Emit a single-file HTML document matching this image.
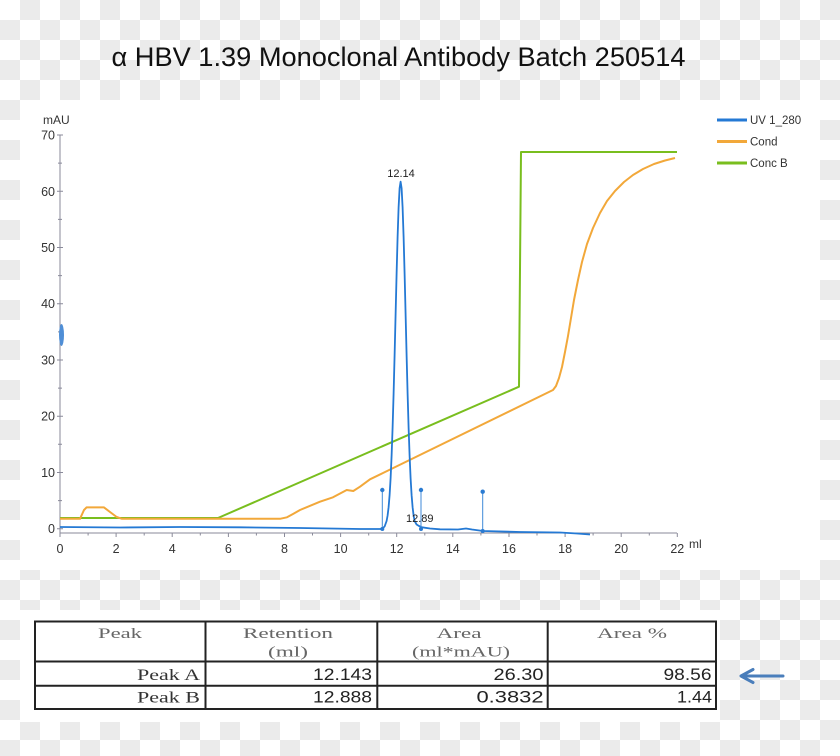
<!DOCTYPE html>
<html>
<head>
<meta charset="utf-8">
<style>
html,body{margin:0;padding:0;width:840px;height:756px;overflow:hidden;background:#fff;}
svg{display:block;}
</style>
</head>
<body>
<svg width="840" height="756" viewBox="0 0 840 756" xmlns="http://www.w3.org/2000/svg">
<defs>
<pattern id="chk" x="0" y="0" width="40" height="40" patternUnits="userSpaceOnUse">
<rect width="40" height="40" fill="#fff"/>
<rect x="20" width="20" height="20" fill="#ebebeb"/>
<rect y="20" width="20" height="20" fill="#ebebeb"/>
</pattern>
</defs>
<rect width="840" height="756" fill="url(#chk)"/>
<text x="111.5" y="66" font-family="Liberation Sans, sans-serif" font-size="26.5" fill="#111" textLength="574" lengthAdjust="spacingAndGlyphs">α HBV 1.39 Monoclonal Antibody  Batch 250514</text>
<rect x="20" y="100" width="800" height="470" fill="#fff"/>
<path fill="none" stroke="#8a8a9a" stroke-width="1" d="M60 135V533H677 M57 135h6M57 191.3h6M57 247.5h6M57 303.7h6M57 360h6M57 416.2h6M57 472.5h6M57 528.7h6 M58 163.1h4M58 219.4h4M58 275.6h4M58 331.9h4M58 388.1h4M58 444.3h4M58 500.6h4"/>
<path fill="none" stroke="#8a8a9a" stroke-width="1" d="M60 533v4M116.1 533v4M172.2 533v4M228.4 533v4M284.5 533v4M340.6 533v4M396.7 533v4M452.8 533v4M509 533v4M565.1 533v4M621.2 533v4M677.3 533v4 M88.1 533v2.5M144.2 533v2.5M200.3 533v2.5M256.4 533v2.5M312.5 533v2.5M368.7 533v2.5M424.8 533v2.5M480.9 533v2.5M537 533v2.5M593.1 533v2.5M649.3 533v2.5"/>
<g font-family="Liberation Sans, sans-serif" font-size="12.5" fill="#333" text-anchor="end">
<text x="55" y="139.5">70</text><text x="55" y="195.8">60</text><text x="55" y="252">50</text><text x="55" y="308.2">40</text>
<text x="55" y="364.5">30</text><text x="55" y="420.7">20</text><text x="55" y="477">10</text><text x="55" y="533.2">0</text>
</g>
<text x="43" y="124" font-family="Liberation Sans, sans-serif" font-size="12" fill="#333">mAU</text>
<g font-family="Liberation Sans, sans-serif" font-size="12.5" fill="#333" text-anchor="middle">
<text x="60" y="553">0</text><text x="116.1" y="553">2</text><text x="172.2" y="553">4</text><text x="228.4" y="553">6</text>
<text x="284.5" y="553">8</text><text x="340.6" y="553">10</text><text x="396.7" y="553">12</text><text x="452.8" y="553">14</text>
<text x="509" y="553">16</text><text x="565.1" y="553">18</text><text x="621.2" y="553">20</text><text x="677.3" y="553">22</text>
</g>
<text x="689" y="548" font-family="Liberation Sans, sans-serif" font-size="12" fill="#333">ml</text>
<ellipse cx="61.5" cy="335" rx="2.5" ry="11" fill="#4f8ed6"/>
<polyline fill="none" stroke="#79be1e" stroke-width="2" stroke-linejoin="round" points="60,518 218,518 519,386.7 521,152 677,152"/>
<polyline fill="none" stroke="#f2a83a" stroke-width="2" stroke-linejoin="round" points="60,518.8 80,518.8 84,510 86.5,507.4 104,507.4 110,512 116.7,517 122,518.8 280,518.8 287,517.3 293,514 300,510 320,501.7 333,497.3 346.7,490 353.3,491 360,486.7 370,479.3 383,473 553,390 556,386 559,378 562,367 565,352 568,336 571,318 574,300 578,280 582,262 587,244 593,228 600,213 607,201 615,191 624,182 633,175 643,169 654,164 665,160.5 675,158"/>
<polyline fill="none" stroke="#2479d4" stroke-width="1.8" stroke-linejoin="round" points="60,527 120,527.5 180,527 240,527.3 300,528 360,529 380.6,529 382.6,528.3 384.6,526.5 386.6,521 387.6,515.5 388.6,507.2 389.6,495.1 390.6,478.3 391.6,455.7 392.6,427.6 393.6,393.6 394.6,355.2 395.6,314.4 396.6,273.7 397.6,236.9 398.6,207.4 399.6,188.3 400.6,181.7 401.6,188.3 402.6,207.4 403.6,236.9 404.6,273.7 405.6,314.4 406.6,355.2 407.6,393.6 408.6,427.6 409.6,455.7 410.6,478.3 411.6,495.1 412.6,507.2 413.6,515.5 414.6,521 416.6,524.5 419,526 422,527.3 430,528.5 440,529.3 458,529.5 466,528.5 472,529.5 483,531 520,532 560,532.5 577,533.5 590,534.5"/>
<path stroke="#3f8ad8" stroke-width="1" fill="none" d="M382.3 490V529M421 490V529M482.7 491.7V531"/>
<g fill="#2a7bd2">
<circle cx="382.3" cy="490" r="2.2"/><circle cx="421" cy="490" r="2.2"/><circle cx="482.7" cy="491.7" r="2.2"/>
<circle cx="382.3" cy="529" r="2"/><circle cx="421" cy="529" r="2"/><circle cx="482.7" cy="531" r="2"/>
</g>
<text x="401" y="177" text-anchor="middle" font-family="Liberation Sans, sans-serif" font-size="11" fill="#222">12.14</text>
<text x="406" y="522" font-family="Liberation Sans, sans-serif" font-size="11" fill="#222">12.89</text>
<path stroke-width="3" stroke="#2479d4" d="M717 120h30"/>
<path stroke-width="3" stroke="#f2a83a" d="M717 141.5h30"/>
<path stroke-width="3" stroke="#79be1e" d="M717 163h30"/>
<g font-family="Liberation Sans, sans-serif" font-size="11.5" fill="#333">
<text x="750" y="124">UV 1_280</text><text x="750" y="145.5">Cond</text><text x="750" y="167">Conc B</text>
</g>
<rect x="20" y="610" width="700" height="112" fill="#fff"/>
<path stroke="#222" stroke-width="2" fill="none" d="M35 621.5H716V709H35Z M35 661.5H716 M35 685.8H716 M205.5 621.5V709 M377.3 621.5V709 M547.7 621.5V709"/>
<g font-family="Liberation Serif, serif" font-size="15" fill="#666" text-anchor="middle">
<text x="120" y="638" textLength="44" lengthAdjust="spacingAndGlyphs">Peak</text>
<text x="288" y="638" textLength="90" lengthAdjust="spacingAndGlyphs">Retention</text>
<text x="288" y="656.5" textLength="40" lengthAdjust="spacingAndGlyphs">(ml)</text>
<text x="459" y="638" textLength="45" lengthAdjust="spacingAndGlyphs">Area</text>
<text x="461" y="656.5" textLength="98" lengthAdjust="spacingAndGlyphs">(ml*mAU)</text>
<text x="632" y="638" textLength="70" lengthAdjust="spacingAndGlyphs">Area %</text>
</g>
<g font-family="Liberation Serif, serif" font-size="16" fill="#333">
<text x="137" y="680" textLength="63" lengthAdjust="spacingAndGlyphs">Peak A</text>
<text x="137" y="702.5" textLength="63" lengthAdjust="spacingAndGlyphs">Peak B</text>
</g>
<g font-family="Liberation Sans, sans-serif" font-size="16.5" fill="#222">
<text x="313" y="680" textLength="59" lengthAdjust="spacingAndGlyphs">12.143</text>
<text x="313" y="702.5" textLength="59" lengthAdjust="spacingAndGlyphs">12.888</text>
<text x="493.5" y="680" textLength="50" lengthAdjust="spacingAndGlyphs">26.30</text>
<text x="476.5" y="702.5" textLength="67" lengthAdjust="spacingAndGlyphs">0.3832</text>
<text x="663.5" y="680" textLength="48" lengthAdjust="spacingAndGlyphs">98.56</text>
<text x="677" y="702.5" textLength="35" lengthAdjust="spacingAndGlyphs">1.44</text>
</g>
<path stroke="#4a7ebb" stroke-width="3" fill="none" stroke-linecap="round" stroke-linejoin="round" d="M742 676H783 M753 669.5L741 676L753 682.5"/>
</svg>
</body>
</html>
